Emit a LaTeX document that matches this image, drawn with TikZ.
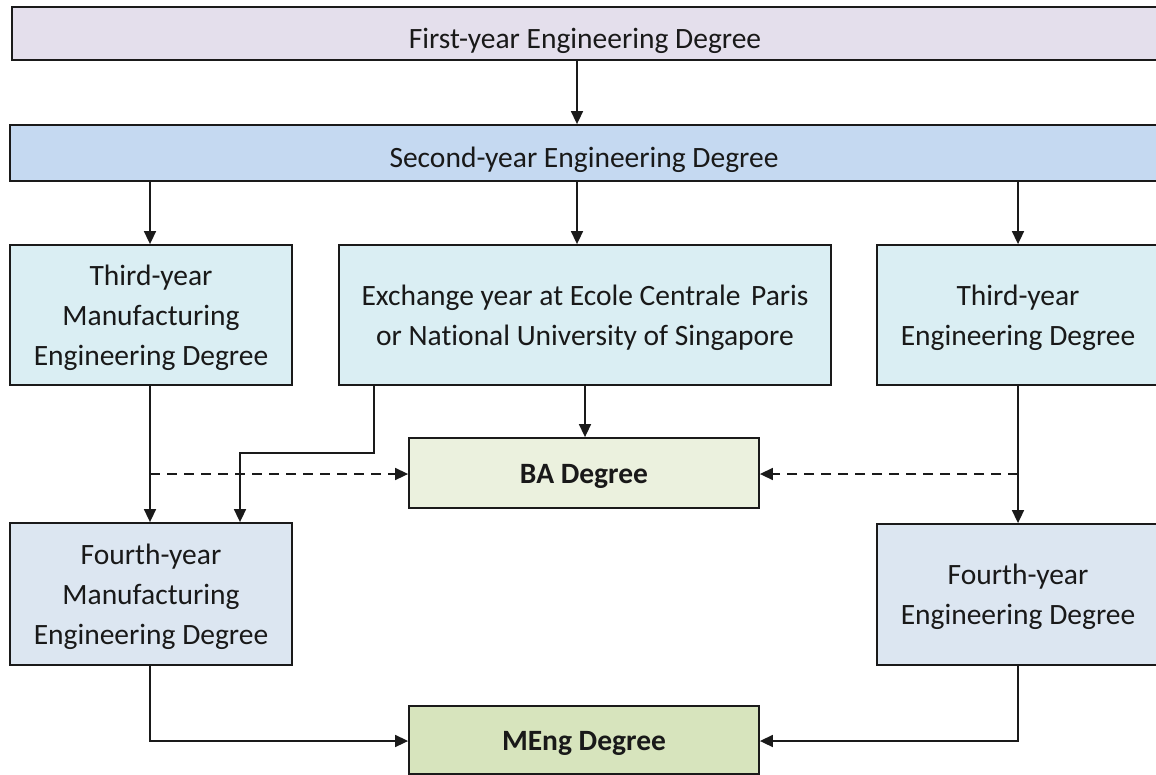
\documentclass[tikz,border=0pt]{standalone}
\usepackage{fontspec}
\setmainfont{Carlito}[Ligatures=NoCommon]
\usetikzlibrary{arrows.meta,calc}
\definecolor{cfirst}{HTML}{E4DFEC}
\definecolor{csecond}{HTML}{C5D9F1}
\definecolor{cthird}{HTML}{DAEEF3}
\definecolor{cfourth}{HTML}{DCE6F1}
\definecolor{cba}{HTML}{EBF1DE}
\definecolor{cmeng}{HTML}{D7E4BD}
\definecolor{cline}{HTML}{1A1A1A}
\newcommand\topfix{\rule{0pt}{29pt}}
\newcommand\botfix{\rule[-9pt]{0pt}{0pt}}
\newcommand\toptall{\rule{0pt}{37pt}}
\newcommand\botsmall{\rule[-8pt]{0pt}{0pt}}
\tikzset{
  box/.style={draw=cline, line width=1.8pt, rectangle, align=center, inner sep=0pt,
    font=\fontsize{29.5}{40}\selectfont, text=black!90},
  boldbox/.style={box, font=\fontsize{29.5}{40}\selectfont\bfseries},
  arr/.style={line width=1.6pt, draw=cline, -{Triangle[length=13pt,width=12pt]}},
  dashline/.style={arr, dash pattern=on 10pt off 7pt}
}
\begin{document}
\begin{tikzpicture}[x=1pt,y=-1pt]
\useasboundingbox (0,0) rectangle (1156,774);
\node[box, fill=cfirst, minimum width=1146pt, minimum height=53pt] (first) at (585,33.5) {\toptall First-year Engineering Degree\botsmall};
\node[box, fill=csecond, minimum width=1148pt, minimum height=56pt] (second) at (584,153) {\toptall Second-year Engineering Degree\botsmall};
\node[box, fill=cthird, minimum width=282pt, minimum height=140pt] (t3m) at (151,315) {\topfix Third-year\\Manufacturing\\Engineering Degree\botfix};
\node[box, fill=cthird, minimum width=492pt, minimum height=140pt] (ex) at (585,315) {\topfix Exchange year at Ecole Centrale\hspace{4pt} Paris\\or National University of Singapore\botfix};
\node[box, fill=cthird, minimum width=282pt, minimum height=140pt] (t3e) at (1018,315) {\topfix Third-year\\Engineering Degree\botfix};
\node[boldbox, fill=cba, minimum width=350pt, minimum height=70pt] (ba) at (584,473) {\topfix BA Degree\botfix};
\node[box, fill=cfourth, minimum width=282pt, minimum height=142pt] (f4m) at (151,594) {\topfix Fourth-year\\Manufacturing\\Engineering Degree\botfix};
\node[box, fill=cfourth, minimum width=282pt, minimum height=141pt] (f4e) at (1018,594.5) {\topfix Fourth-year\\Engineering Degree\botfix};
\node[boldbox, fill=cmeng, minimum width=350pt, minimum height=68pt] (meng) at (584,740) {\topfix MEng Degree\botfix};

% connectors
\draw[arr] (first.south -| 577,0) -- (second.north -| 577,0);
\draw[arr] (second.south -| 150,0) -- (t3m.north -| 150,0);
\draw[arr] (second.south -| 577,0) -- (ex.north -| 577,0);
\draw[arr] (second.south -| t3e.north) -- (t3e.north);
\draw[arr] (ex.south) -- (ba.north -| ex.south);
\draw[arr] (t3m.south -| 150,0) -- (f4m.north -| 150,0);
\draw[arr] (t3e.south) -- (f4e.north);
\coordinate (dl) at (150,474);
\coordinate (dr) at (1018,474);
\draw[dashline] (dl) -- (dl -| ba.west);
\draw[dashline] (dr) -- (dr -| ba.east);
\draw[arr] (ex.south -| 374,0) -- (374,453) -- (240,453) -- (f4m.north -| 240,0);
\draw[arr] (f4m.south -| 150,0) -- (150,741) -- (meng.west |- 0,741);
\draw[arr] (f4e.south) -- (1018,741) -- (meng.east |- 0,741);
\end{tikzpicture}
\end{document}
